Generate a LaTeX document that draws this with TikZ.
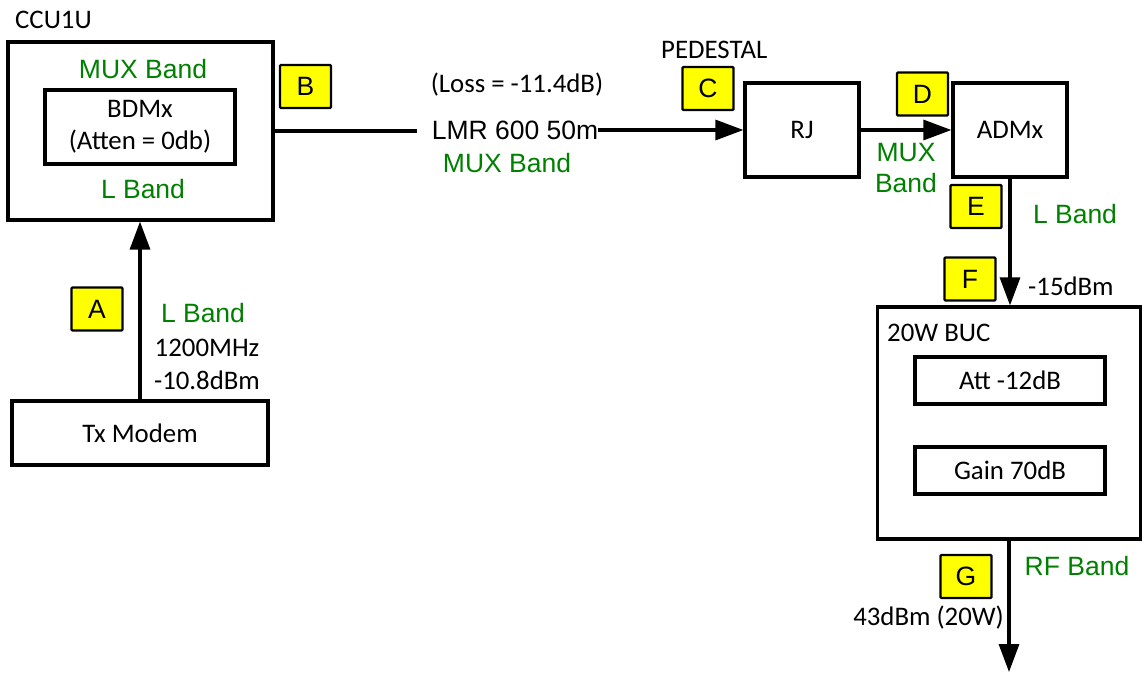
\documentclass[tikz,border=0pt]{standalone}
\usepackage{fontspec}
\setmainfont{Carlito}
\newfontfamily\arialf{Liberation Sans}
\usetikzlibrary{arrows.meta}
\definecolor{lblgreen}{RGB}{0,128,0}
\definecolor{tagyellow}{RGB}{255,255,0}
\begin{document}
\begin{tikzpicture}[x=1pt,y=-1pt,
 box/.style={draw, line width=3.2pt, inner sep=0pt, align=center, font=\fontsize{26.8}{32}\selectfont},
 tag/.style={draw, fill=tagyellow, line width=2.4pt, rounded corners=1pt, minimum width=51pt, minimum height=43pt, inner sep=0pt, font=\arialf\fontsize{26.5}{30}\selectfont},
 grn/.style={text=lblgreen, font=\arialf\fontsize{26.5}{31}\selectfont, inner sep=0pt, align=center},
 blk/.style={font=\fontsize{26.8}{32}\selectfont, inner sep=0pt, align=center},
 conn/.style={line width=3.2pt, -{Triangle[length=28pt,width=20pt]}},
 plain/.style={line width=3.2pt},
]
\useasboundingbox (0,0) rectangle (1142,673);
% CCU1U
\node[box, minimum width=265pt, minimum height=178pt] (ccu) at (140.5,131) {};
\node[box, minimum width=190pt, minimum height=74pt] (bdmx) at (140,127) {BDMx\\(Atten = 0db)};
\node[grn] (ccumux) at (143,69) {MUX Band};
\node[grn] (ccul) at (143,189) {L Band};
\node[blk, anchor=west] (ccuname) at (15,20) {CCU1U};
\node[tag] (tb) at (305.5,86.5) {B};
% cable
\node[font=\arialf\fontsize{26.5}{30}\selectfont, inner sep=0pt] (lmr) at (515,130) {LMR 600 50m};
\coordinate (lmrL) at (417,131);
\draw[plain] (ccu.east) -- (lmrL);
\node[blk] (loss) at (517,85) {(Loss = -11.4dB)};
\node[grn] (cabmux) at (507,163) {MUX Band};
% pedestal
\node[blk, anchor=west] (ped) at (661,50) {PEDESTAL};
\node[tag] (tc) at (708,88.5) {C};
\node[box, minimum width=114pt, minimum height=94pt] (rj) at (802,130) {RJ};
\node[tag] (td) at (922.5,94) {D};
\node[box, minimum width=114pt, minimum height=94pt] (admx) at (1010,130) {ADMx};
\draw[conn] (lmr.east) -- (rj.west);
\draw[conn] (rj.east) -- (admx.west);
\node[grn] (rjmux) at (906,168.5) {MUX\\Band};
% BUC
\node[box, minimum width=263pt, minimum height=232pt] (buc) at (1009,423) {};
\node[blk, anchor=west] (bucname) at (887,333) {20W BUC};
\node[box, minimum width=190pt, minimum height=47pt] (att) at (1010,380.5) {Att -12dB};
\node[box, minimum width=190pt, minimum height=47pt] (gain) at (1010,470.5) {Gain 70dB};
\draw[conn] (admx.south) -- (admx.south |- buc.north);
\node[tag] (te) at (976,206.5) {E};
\node[tag] (tf) at (970,279) {F};
\node[grn] (admxl) at (1075,214) {L Band};
\node[blk, anchor=west] (m15) at (1028,286) {-15dBm};
\coordinate (out) at (1009,672);
\draw[conn] (buc.south) -- (out);
\node[tag] (tg) at (966,576.5) {G};
\node[grn] (rf) at (1077,566) {RF Band};
\node[blk, anchor=east] (p43) at (1004,618) {43dBm (20W)};
% Tx modem
\node[box, minimum width=256pt, minimum height=64pt] (tx) at (140,433) {Tx Modem};
\node[tag] (ta) at (97,309) {A};
\draw[conn] (tx.north) -- (tx.north |- ccu.south);
\node[grn] (txl) at (203,313) {L Band};
\node[blk] (mhz) at (207,348) {1200MHz};
\node[blk] (dbm) at (207,380) {-10.8dBm};
\end{tikzpicture}
\end{document}
